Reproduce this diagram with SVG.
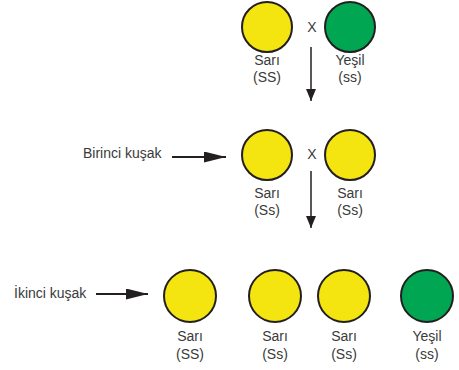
<svg xmlns="http://www.w3.org/2000/svg" width="459" height="370" viewBox="0 0 459 370">
<defs>
<style>
.y{fill:#f4e40f;stroke:#231f20;stroke-width:2}
.g{fill:#00a651;stroke:#231f20;stroke-width:2}
text{font-family:"Liberation Sans",Arial,sans-serif;font-size:14px;fill:#3a3a3a;text-anchor:middle}
.l{text-anchor:start}
.c{stroke:#231f20;stroke-width:1.5;fill:none}
.h{stroke-width:2}
</style>
<marker id="ah" markerWidth="12" markerHeight="10" viewBox="0 0 12 10" refX="12" refY="5" orient="auto" markerUnits="userSpaceOnUse">
<path d="M0,0 L12,5 L0,10 Z" fill="#231f20"/>
</marker>
<marker id="ahb" markerWidth="22" markerHeight="11" viewBox="0 0 22 11" refX="22" refY="5.5" orient="auto" markerUnits="userSpaceOnUse">
<path d="M0,0 L22,5.5 L0,11 Z" fill="#231f20"/>
</marker>
</defs>
<g id="p1"><circle class="y" cx="267" cy="27" r="25"/><text x="267" y="65">Sarı</text><text x="267" y="82">(SS)</text></g>
<text x="312" y="32">X</text>
<g id="p2"><circle class="g" cx="350" cy="27" r="25"/><text x="350" y="65">Yeşil</text><text x="350" y="82">(ss)</text></g>
<g id="f1"><circle class="y" cx="267" cy="155" r="25"/><text x="267" y="198">Sarı</text><text x="267" y="215">(Ss)</text></g>
<text x="312" y="159">X</text>
<g id="f2"><circle class="y" cx="350" cy="155" r="25"/><text x="350" y="198">Sarı</text><text x="350" y="215">(Ss)</text></g>
<g id="lbl1"><text class="l" x="83" y="158">Birinci kuşak</text></g>
<g id="lbl2"><text class="l" x="14" y="298">İkinci kuşak</text></g>
<g id="s1"><circle class="y" cx="190" cy="296" r="26"/><text x="190" y="341">Sarı</text><text x="190" y="359">(SS)</text></g>
<g id="s2"><circle class="y" cx="275" cy="296" r="26"/><text x="275" y="341">Sarı</text><text x="275" y="359">(Ss)</text></g>
<g id="s3"><circle class="y" cx="344" cy="296" r="26"/><text x="344" y="341">Sarı</text><text x="344" y="359">(Ss)</text></g>
<g id="s4"><circle class="g" cx="427" cy="296" r="26"/><text x="427" y="341">Yeşil</text><text x="427" y="359">(ss)</text></g>
<g id="connectors">
<line class="c" x1="311" y1="47" x2="311" y2="101" marker-end="url(#ah)"/>
<line class="c" x1="311" y1="171" x2="311" y2="228" marker-end="url(#ah)"/>
<line class="c h" x1="172" y1="157" x2="226" y2="157" marker-end="url(#ahb)"/>
<line class="c h" x1="96" y1="294" x2="148" y2="294" marker-end="url(#ahb)"/>
</g>
</svg>
